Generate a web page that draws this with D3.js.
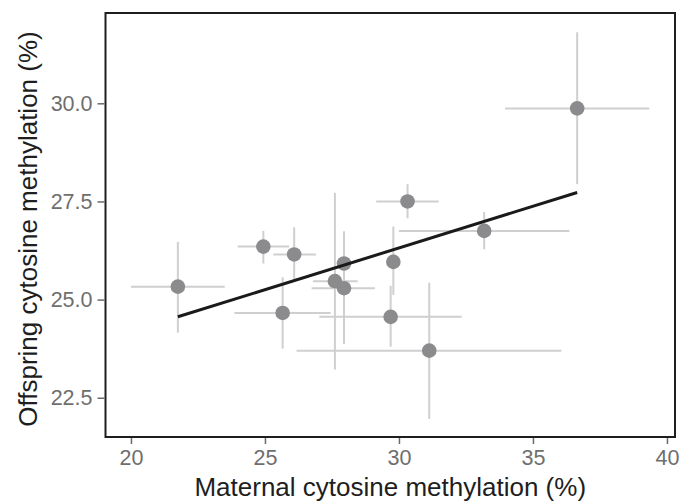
<!DOCTYPE html>
<html lang="en">
<head>
  <meta charset="UTF-8">
  <title>methylation</title>
  <style>
    * {
      padding: 0;
      margin: 0;
    }
    body {
      background: #fff;
    }
    text {
      font-family: "Liberation Sans", Arial, sans-serif;
    }
  </style>
</head>
<body>
  <script src="https://d3js.org/d3.v7.min.js"></script>
  <script>
    const width = 691;
    const height = 502;

    // maternal (x) and offspring (y) methylation, with error ranges
    const maternal   = [21.75, 24.94, 26.09, 27.95, 27.61, 27.95, 25.66, 29.79, 29.69, 31.13, 33.18, 30.32, 36.65];
    const maternalLo = [20.00, 23.98, 25.31, 27.75, 26.79, 26.74, 23.86, 29.60, 27.03, 26.18, 30.00, 29.15, 33.96];
    const maternalHi = [23.50, 25.90, 26.90, 28.15, 28.46, 29.10, 27.45, 29.98, 32.34, 36.06, 36.36, 31.48, 39.34];
    const offspring   = [25.33, 26.35, 26.15, 25.92, 25.47, 25.29, 24.66, 25.96, 24.56, 23.70, 26.75, 27.50, 29.87];
    const offspringLo = [24.16, 25.92, 25.52, 25.10, 23.22, 23.87, 23.75, 25.12, 23.80, 21.96, 26.28, 27.07, 27.94];
    const offspringHi = [26.47, 26.75, 26.84, 26.74, 27.72, 26.70, 25.57, 26.86, 25.35, 25.43, 27.23, 27.94, 31.81];

    const xTicks = [20, 25, 30, 35, 40];
    const yTicks = [22.5, 25.0, 27.5, 30.0];

    // fitted line
    const fitIntercept = 19.94;
    const fitSlope = 0.2125;

    const points = maternal.map((m, i) => ({
      x: m, xlo: maternalLo[i], xhi: maternalHi[i],
      y: offspring[i], ylo: offspringLo[i], yhi: offspringHi[i]
    }));

    const panel = { left: 105.5, right: 675, top: 13, bottom: 437 };

    const x = d3.scaleLinear()
      .domain([19.05, 40.3])
      .range([panel.left, panel.right]);

    const y = d3.scaleLinear()
      .domain([21.5, 32.3])
      .range([panel.bottom, panel.top]);

    const svg = d3.select('body')
      .append('svg')
      .attr('width', width)
      .attr('height', height);

    // error bars
    const bars = svg.append('g')
      .attr('stroke', '#cfcfcf')
      .attr('stroke-width', 2);

    bars.selectAll('.hbar')
      .data(points)
      .join('line')
      .attr('x1', d => x(d.xlo))
      .attr('x2', d => x(d.xhi))
      .attr('y1', d => y(d.y))
      .attr('y2', d => y(d.y));

    bars.selectAll('.vbar')
      .data(points)
      .join('line')
      .attr('x1', d => x(d.x))
      .attr('x2', d => x(d.x))
      .attr('y1', d => y(d.ylo))
      .attr('y2', d => y(d.yhi));

    svg.append('g')
      .selectAll('circle')
      .data(points)
      .join('circle')
      .attr('cx', d => x(d.x))
      .attr('cy', d => y(d.y))
      .attr('r', 7.3)
      .attr('fill', '#8b8b8e');

    const xmin = d3.min(maternal);
    const xmax = d3.max(maternal);
    svg.append('line')
      .attr('x1', x(xmin))
      .attr('y1', y(fitIntercept + fitSlope * xmin))
      .attr('x2', x(xmax))
      .attr('y2', y(fitIntercept + fitSlope * xmax))
      .attr('stroke', '#1a1a1a')
      .attr('stroke-width', 3);

    // panel border
    svg.append('rect')
      .attr('x', panel.left)
      .attr('y', panel.top)
      .attr('width', panel.right - panel.left)
      .attr('height', panel.bottom - panel.top)
      .attr('fill', 'none')
      .attr('stroke', '#1e1e1e')
      .attr('stroke-width', 2);

    // axes
    const xAxis = svg.append('g')
      .attr('transform', `translate(0,${panel.bottom + 1})`)
      .call(d3.axisBottom(x).tickValues(xTicks).tickSize(6).tickSizeOuter(0).tickPadding(6));

    const yAxis = svg.append('g')
      .attr('transform', `translate(${panel.left - 1},0)`)
      .call(d3.axisLeft(y).tickValues(yTicks).tickFormat(d3.format('.1f')).tickSize(7).tickSizeOuter(0).tickPadding(5));

    [xAxis, yAxis].forEach(a => {
      a.select('.domain').remove();
      a.selectAll('.tick line').attr('stroke', '#6a6a6a').attr('stroke-width', 1.5);
      a.selectAll('.tick text')
        .attr('fill', '#6e6e6e')
        .style('font-size', '21.5px')
        .style('font-family', '"Liberation Sans", Arial, sans-serif');
    });

    svg.append('text')
      .attr('x', (panel.left + panel.right) / 2)
      .attr('y', 496)
      .attr('text-anchor', 'middle')
      .attr('fill', '#1e1e1e')
      .style('font-size', '26px')
      .text('Maternal cytosine methylation (%)');

    svg.append('text')
      .attr('transform', `translate(37,229) rotate(-90)`)
      .attr('text-anchor', 'middle')
      .attr('fill', '#1e1e1e')
      .style('font-size', '26px')
      .text('Offspring cytosine methylation (%)');
  </script>
</body>
</html>
